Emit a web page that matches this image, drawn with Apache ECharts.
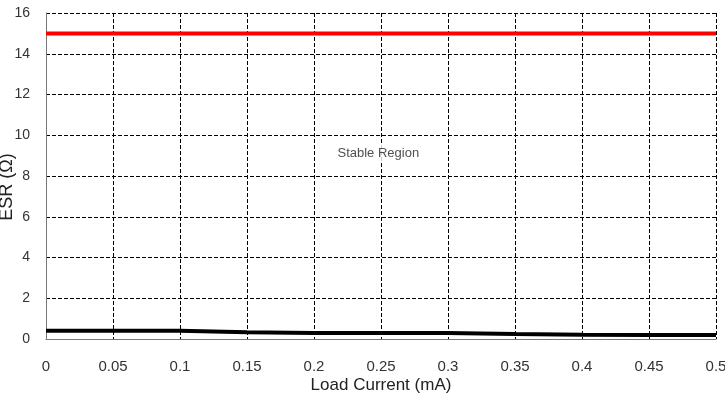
<!DOCTYPE html>
<html><head><meta charset="utf-8">
<script src="https://cdn.jsdelivr.net/npm/echarts@6/dist/echarts.min.js"></script>
<style>html,body{margin:0;padding:0;background:#fff}#c{width:725px;height:394px}</style>
</head><body><div id="c"></div>
<script>
const xTicks = [0,0.05,0.1,0.15,0.2,0.25,0.3,0.35,0.4,0.45,0.5];
const upperX = [0, 0.5];
const upperESR = [15, 15];
const lowerX = [0, 0.1, 0.15, 0.2, 0.25, 0.3, 0.35, 0.4, 0.45, 0.5];
const lowerESR = [0.4, 0.4, 0.33, 0.29, 0.29, 0.3, 0.25, 0.21, 0.2, 0.2];
const regionLabel = 'Stable Region';
const regionPos = [0.248, 9.1];

const font = 'Liberation Sans, Arial, sans-serif';
const chart = echarts.init(document.getElementById('c'));
chart.setOption({
  animation: false,
  grid: {left: 46, right: 9, top: 13, bottom: 55, containLabel: false, outerBoundsMode: 'none'},
  xAxis: {
    type: 'value', min: 0, max: 0.5, interval: 0.05,
    name: 'Load Current (mA)', nameLocation: 'middle', nameGap: 38, nameMoveOverlap: false,
    nameTextStyle: {fontFamily: font, fontSize: 17, color: '#222'},
    axisLine: {show: true, lineStyle: {color: '#777', width: 1}},
    axisTick: {show: false},
    axisLabel: {fontFamily: font, fontSize: 15, color: '#333', margin: 20,
      formatter: v => String(+v.toFixed(2))},
    splitLine: {show: true, lineStyle: {type: 'dashed', color: '#000', width: 1}}
  },
  yAxis: {
    type: 'value', min: 0, max: 16, interval: 2,
    name: 'ESR (Ω)', nameLocation: 'middle', nameGap: 30, nameMoveOverlap: false,
    nameTextStyle: {fontFamily: font, fontSize: 18, color: '#222', padding: [0, 22, 0, 0]},
    axisLine: {show: true, lineStyle: {color: '#777', width: 1}},
    axisTick: {show: false},
    axisLabel: {fontFamily: font, fontSize: 14, color: '#333', margin: 16},
    splitLine: {show: true, lineStyle: {type: 'dashed', color: '#000', width: 1}}
  },
  series: [
    {type: 'line', data: upperX.map((x,i)=>[x, upperESR[i]]), symbol: 'none',
     lineStyle: {color: '#ff0000', width: 4}, z: 5},
    {type: 'line', data: lowerX.map((x,i)=>[x, lowerESR[i]]), symbol: 'none',
     lineStyle: {color: '#000', width: 4}, z: 5},
    {type: 'scatter', data: [regionPos], symbolSize: 1, itemStyle: {color: 'rgba(0,0,0,0)'}, silent: true, z: 6,
     label: {show: true, position: 'inside', formatter: regionLabel, fontFamily: font, fontSize: 13, color: '#222',
       backgroundColor: '#fff', padding: [3, 4]}}
  ]
});
</script></body></html>
